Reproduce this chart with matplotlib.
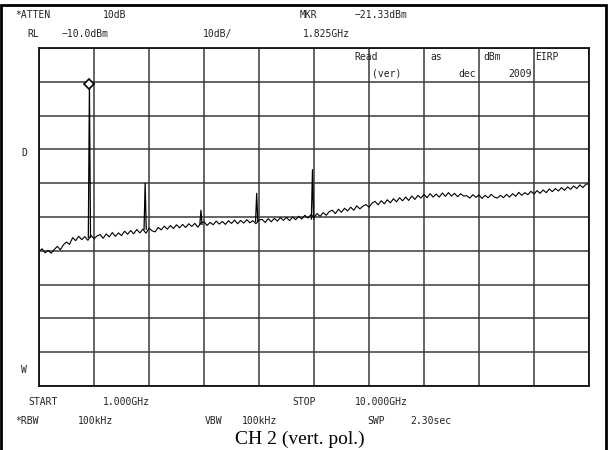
import numpy as np
import matplotlib.pyplot as plt
from matplotlib.patches import Rectangle

# === sweep settings
start_ghz = 1.0
stop_ghz = 10.0
ref_level = -10.0
db_per_div = 10.0

# noise floor, one value every 50 MHz from 1.00 to 10.00 GHz
floor_dbm = [
    -70.2, -69.4, -70.6, -69.9, -70.7, -69.6, -68.7, -69.7, -68.2, -67.4,
    -68.1, -66.1, -67.0, -65.7, -66.7, -65.8, -66.9, -65.4, -66.4, -65.6,
    -65.2, -66.3, -65.0, -65.9, -64.6, -65.7, -64.7, -65.5, -64.2, -65.1,
    -64.0, -65.0, -63.7, -64.7, -63.6, -64.8, -63.3, -64.1, -64.4, -63.1,
    -63.8, -62.7, -63.6, -62.5, -63.4, -62.3, -63.2, -62.2, -63.1, -62.0,
    -62.8, -61.9, -63.0, -61.8, -61.4, -62.5, -61.6, -62.3, -61.2, -62.1,
    -61.3, -62.2, -61.1, -61.9, -60.9, -62.0, -61.0, -61.8, -60.8, -61.7,
    -61.1, -62.0, -60.9, -60.7, -61.6, -60.5, -61.4, -60.4, -61.2, -60.2,
    -61.0, -60.1, -61.1, -60.0, -60.8, -59.8, -60.6, -59.5, -60.3, -59.3,
    -60.1, -59.0, -59.8, -58.7, -59.5, -58.4, -58.0, -59.0, -57.7, -58.6,
    -57.4, -58.2, -57.1, -58.0, -56.7, -57.6, -56.8, -56.3, -57.1, -55.9,
    -55.4, -56.4, -55.2, -56.1, -54.9, -55.8, -54.6, -55.5, -54.3, -55.2,
    -54.1, -55.1, -53.8, -54.8, -53.6, -54.4, -53.3, -54.3, -53.1, -54.1,
    -53.2, -54.1, -52.9, -53.9, -52.8, -53.8, -53.0, -54.0, -53.1, -53.8,
    -53.7, -54.4, -53.4, -54.2, -53.5, -54.5, -53.6, -54.3, -53.3, -54.1,
    -54.4, -53.6, -54.3, -53.3, -54.1, -53.1, -53.9, -52.7, -53.6, -52.8,
    -53.4, -52.4, -53.2, -52.2, -53.0, -52.0, -52.8, -51.7, -52.5, -51.6,
    -52.3, -51.3, -52.1, -51.1, -51.8, -50.8, -51.6, -50.5, -51.3, -50.3,
    -50.2,
]
sweep_ghz = np.linspace(start_ghz, stop_ghz, len(floor_dbm))

# spurs / carrier
peak_ghz = [1.825, 2.737, 3.650, 4.562, 5.475]
peak_dbm = [-21.33, -50.0, -58.0, -53.0, -46.0]
peak_base_dbm = [-66.0, -63.6, -62.2, -61.3, -60.6]
mkr_ghz = 1.825
mkr_dbm = -21.33

W, H = 608, 450
fig = plt.figure(figsize=(W / 100, H / 100), dpi=100)

# plot area in pixels: x 39..589, y 48..386
ax = fig.add_axes([39 / W, 1 - 386 / H, 550 / W, 338 / H])
ax.set_xlim(start_ghz, stop_ghz)
ax.set_ylim(ref_level - 10 * db_per_div, ref_level)
ax.set_xticks(np.linspace(start_ghz, stop_ghz, 11))
ax.set_yticks(np.linspace(ref_level - 10 * db_per_div, ref_level, 11))
ax.grid(True, color='#3a3a3a', lw=1.1)
ax.tick_params(length=0, labelbottom=False, labelleft=False)
for s in ax.spines.values():
    s.set_linewidth(1.3)
    s.set_color('#111111')
ax.set_axisbelow(True)

ax.plot(sweep_ghz, floor_dbm, color='black', lw=0.8)
hw = 0.018
for f, top, base in zip(peak_ghz, peak_dbm, peak_base_dbm):
    ax.plot([f - hw, f, f + hw], [base, top, base], color='black', lw=0.9)
ax.plot([mkr_ghz], [mkr_dbm + 0.8], marker='D', ms=5, mfc='white',
        mec='black', mew=1.2, zorder=5)

# === instrument annotations
mono = dict(family='DejaVu Sans Mono', fontsize=7, color='#222222', va='center')
def put(x, y, s, **kw):
    opts = dict(mono)
    opts.update(kw)
    fig.text(x / W, 1 - y / H, s, **opts)

put(15, 15, '*ATTEN')
put(103, 15, '10dB')
put(300, 15, 'MKR')
put(355, 15, '\u221221.33dBm')
put(27, 34, 'RL')
put(62, 34, '\u221210.0dBm')
put(203, 34, '10dB/')
put(303, 34, '1.825GHz')

put(354, 57, 'Read')
put(430, 57, 'as')
put(483, 57, 'dBm')
put(535, 57, 'EIRP')
put(372, 74, '(ver)')
put(458, 74, 'dec')
put(508, 74, '2009')

put(21, 153, 'D')
put(21, 370, 'W')

put(28, 402, 'START')
put(103, 402, '1.000GHz')
put(292, 402, 'STOP')
put(355, 402, '10.000GHz')
put(15, 421, '*RBW')
put(78, 421, '100kHz')
put(205, 421, 'VBW')
put(242, 421, '100kHz')
put(367, 421, 'SWP')
put(410, 421, '2.30sec')

fig.text(300 / W, 1 - 444 / H, 'CH 2 (vert. pol.)', family='Liberation Serif',
         fontsize=14, ha='center', va='baseline')

# outer frame of the scanned figure
fig.add_artist(Rectangle((1 / W, -0.1), 605 / W, 1.1 - 5 / H,
                         transform=fig.transFigure, fill=False,
                         lw=2, ec='black'))

fig.savefig('out.png', dpi=100)
